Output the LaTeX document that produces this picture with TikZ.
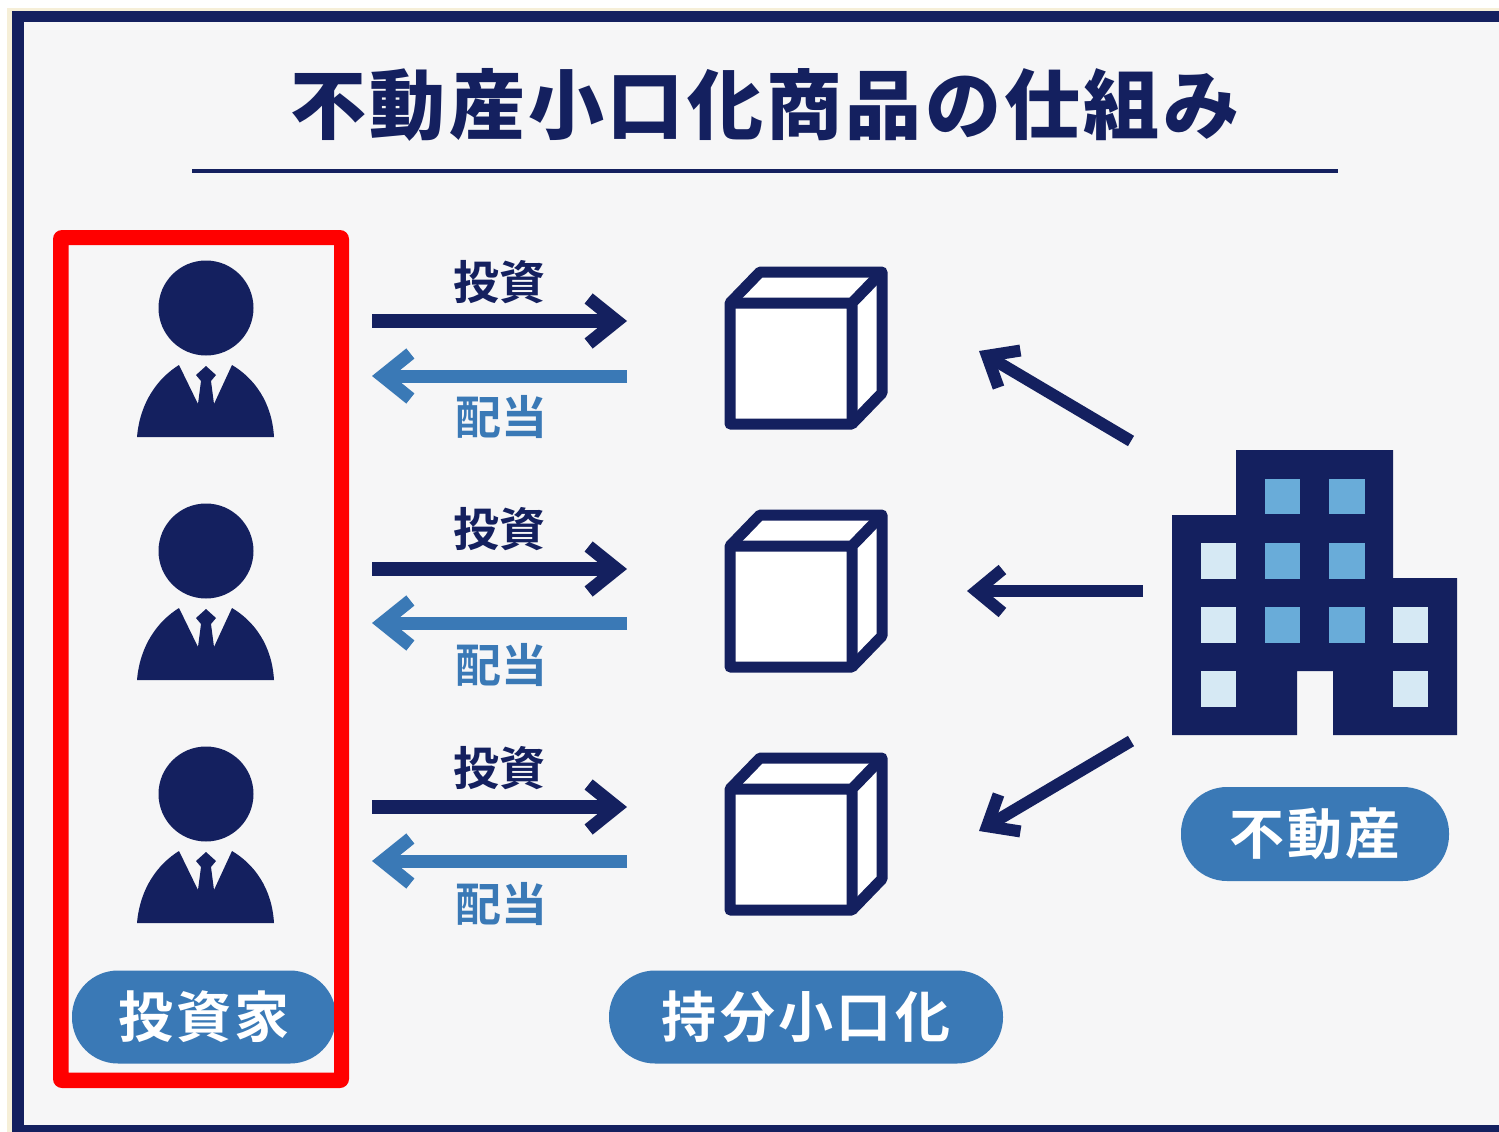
\documentclass[tikz,border=0pt]{standalone}
\usepackage{fontspec}
\usetikzlibrary{arrows.meta}
\setmainfont{Noto Sans CJK JP}[BoldFont={Noto Sans CJK JP Bold}]
\newfontfamily\cjkbold{Noto Sans CJK JP Bold}
\newfontfamily\cjktitle{Noto Sans CJK JP Black}[LetterSpace=4.4]
\newfontfamily\cjkpill{Noto Sans CJK JP Bold}[LetterSpace=6]
\definecolor{navy}{HTML}{14205F}
\definecolor{midblue}{HTML}{3A79B6}
\definecolor{winblue}{HTML}{69ACD9}
\definecolor{winlight}{HTML}{D6E9F4}
\definecolor{paper}{HTML}{F6F6F7}
\definecolor{cream}{HTML}{F6EFD8}
\tikzset{
  x=1pt,y=-1pt,
  flowhead/.style={-{Straight Barb[length=28pt,width=45pt,line width=13pt]}},
  feedhead/.style={-{Straight Barb[length=26pt,width=43pt,line width=12pt]}},
  invest/.style={draw=navy,line width=14pt,flowhead},
  payout/.style={draw=midblue,line width=13pt,flowhead},
  feed/.style={draw=navy,line width=12pt,feedhead},
  lab/.style={inner sep=0pt,font=\fontsize{46}{46}\cjkbold},
  pill/.style={fill=midblue,text=white,rounded corners=46pt,inner sep=0pt,font=\fontsize{55}{55}\cjkpill},
  win/.style={fill=winblue,draw=none,minimum width=35.5pt,minimum height=35.5pt,inner sep=0pt},
  winl/.style={win,fill=winlight},
  pics/investor/.style={code={
    \fill[navy] (0,0) circle[radius=47.5];
    \fill[navy] (-69,129) .. controls (-66,94) and (-48,70) .. (-27,57)
      -- (-8,96) -- (-5,73) -- (-10,67) -- (0,58) -- (10,67) -- (5,73) -- (8,96) -- (26,57)
      .. controls (48,70) and (66,94) .. (68,129) -- cycle;
  }},
  pics/unitbox/.style={code={
    \filldraw[fill=white,draw=navy,line width=11pt,line join=round]
      (0,31) -- (30,0) -- (152,0) -- (152,121) -- (122,152) -- (0,152) -- cycle;
    \draw[navy,line width=11pt,line join=round] (0,31) -- (122,31) -- (122,152) (122,31) -- (152,0);
  }}
}
\begin{document}
\begin{tikzpicture}
\useasboundingbox (0,0) rectangle (1499,1132);
\fill[white] (0,0) rectangle (1499,1132);
\fill[cream] (7,8) rectangle (1499,1132);
\fill[navy] (12,11) rectangle (1499,1132);
\fill[paper] (24,22) rectangle (1499,1125);

\node[inner sep=0pt,text=navy,font=\fontsize{76}{76}\cjktitle] (title) at (765,105) {不動産小口化商品の仕組み};
\coordinate (ruleL) at (192,171);
\coordinate (ruleR) at (1338,171);
\draw[navy,line width=4pt] (ruleL) -- (ruleR);

\foreach \n/\y in {a/308,b/551,c/794}{ \pic (inv\n) at (206,\y) {investor}; }
\foreach \n/\y in {a/272,b/515,c/758}{ \pic (box\n) at (730,\y) {unitbox}; }

\foreach \n/\yi/\yp/\li/\lp in {a/321/376/282/417,b/569/623/529/665,c/807/861/768/904}{
  \coordinate (iL\n) at (372,\yi);
  \coordinate (iR\n) at (627,\yi);
  \coordinate (pL\n) at (372,\yp);
  \coordinate (pR\n) at (627,\yp);
  \draw[invest] (iL\n) -- (iR\n);
  \draw[payout] (pR\n) -- (pL\n);
  \node[lab,text=navy] (li\n) at (499,\li) {投資};
  \node[lab,text=midblue] (lp\n) at (501,\lp) {配当};
}

\coordinate (fa) at (1131,441);
\coordinate (ta) at (979,351);
\coordinate (fb) at (1143,591);
\coordinate (tb) at (967,591);
\coordinate (fc) at (1131,741);
\coordinate (tc) at (979,831);
\draw[feed] (fa) -- (ta);
\draw[feed] (fb) -- (tb);
\draw[feed] (fc) -- (tc);

\fill[navy] (1236,450) -- (1393,450) -- (1393,578) -- (1457,578) -- (1457,735) -- (1333,735)
  -- (1333,671) -- (1297,671) -- (1297,735) -- (1172,735) -- (1172,515) -- (1236,515) -- cycle;
\foreach \x/\y in {1282.5/496.5,1347/496.5,1282.5/561,1347/561,1282.5/625,1347/625}{
  \node[win] at (\x,\y) {};
}
\foreach \x/\y in {1218.5/561,1218.5/625,1218.5/689,1410.5/625,1410.5/689}{
  \node[winl] at (\x,\y) {};
}

\node[pill,minimum width=264pt,minimum height=93pt] (pinv) at (204,1017) {投資家};
\node[pill,minimum width=394pt,minimum height=93pt] (pbox) at (806,1017) {持分小口化};
\node[pill,minimum width=268pt,minimum height=94pt] (pest) at (1315,834) {不動産};

\fill[red,even odd rule,rounded corners=0pt]
  (68.5,245) rectangle (334,1072.5)
  [rounded corners=9pt] (53,230) rectangle (349,1088);
\end{tikzpicture}
\end{document}
